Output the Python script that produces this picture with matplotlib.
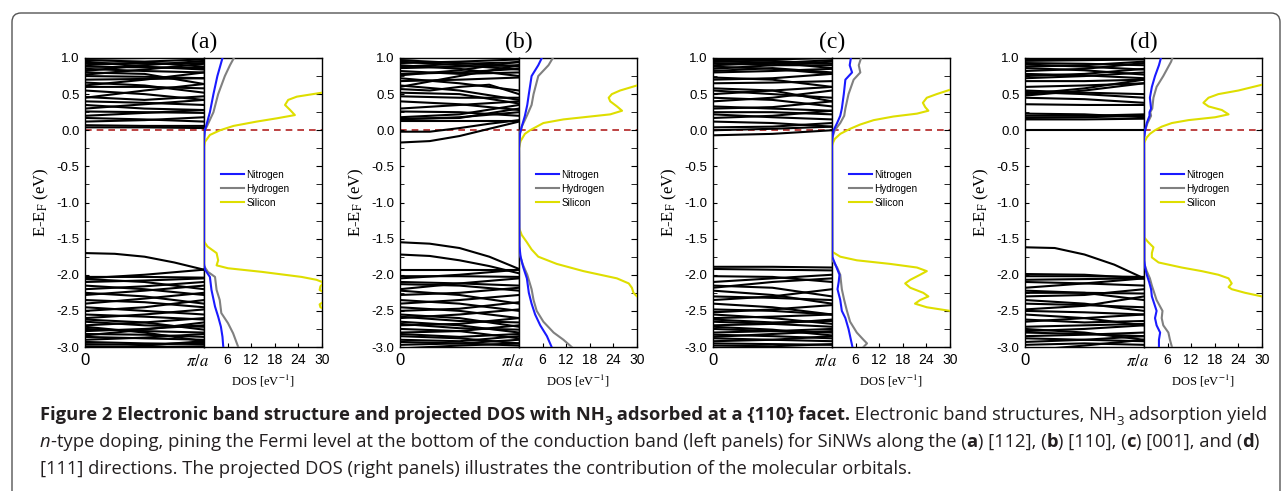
import matplotlib
matplotlib.use('Agg')
import numpy as np
import matplotlib.pyplot as plt
import matplotlib.transforms as mtransforms
from matplotlib.patches import FancyBboxPatch
from matplotlib.ticker import MultipleLocator

plt.rcParams['font.family'] = 'Liberation Sans'
plt.rcParams['mathtext.fontset'] = 'stix'

#### DATA ####
panel_labels = ['(a)', '(b)', '(c)', '(d)']
species = ['Nitrogen', 'Hydrogen', 'Silicon']
species_colors = ['#1a1aff', '#808080', '#dede00']
dos_ticks = [6, 12, 18, 24, 30]

# band energies (eV) sampled evenly from k=0 to k=pi/a
bands_a = [
    [0.04, 0.04, 0.03], [0.07, 0.06, 0.06], [0.12, 0.14, 0.18], [0.17, 0.15, 0.12],
    [0.20, 0.24, 0.28], [0.26, 0.25, 0.24], [0.30, 0.36, 0.42], [0.35, 0.30, 0.28],
    [0.40, 0.38, 0.35], [0.46, 0.42, 0.47], [0.55, 0.50, 0.42], [0.60, 0.60, 0.58],
    [0.66, 0.62, 0.52], [0.70, 0.71, 0.72], [0.75, 0.74, 0.72], [0.80, 0.78, 0.64],
    [0.85, 0.82, 0.80], [0.88, 0.87, 0.86], [0.93, 0.92, 0.93], [0.97, 0.95, 0.98],
    [0.99, 1.00, 1.02], [0.62, 0.70, 0.80], [0.45, 0.55, 0.64], [0.82, 0.90, 0.96],
    [0.90, 0.94, 0.88], [0.77, 0.84, 0.92], [0.95, 0.88, 0.84],
    [-1.70, -1.71, -1.75, -1.83, -1.93],
    [-2.05, -2.00, -1.93], [-2.03, -2.03, -2.04], [-2.06, -2.10, -2.20], [-2.10, -2.08, -2.05],
    [-2.15, -2.20, -2.28], [-2.20, -2.16, -2.10], [-2.25, -2.30, -2.40], [-2.28, -2.22, -2.15],
    [-2.35, -2.38, -2.45], [-2.40, -2.33, -2.25], [-2.45, -2.50, -2.55], [-2.50, -2.45, -2.35],
    [-2.55, -2.58, -2.62], [-2.60, -2.55, -2.48], [-2.65, -2.70, -2.72], [-2.70, -2.66, -2.60],
    [-2.75, -2.78, -2.80], [-2.78, -2.75, -2.70], [-2.82, -2.83, -2.86], [-2.86, -2.88, -2.90],
    [-2.90, -2.87, -2.82], [-2.93, -2.95, -2.96], [-2.96, -2.97, -2.94], [-2.99, -3.00, -2.99],
    [-3.05, -2.98, -2.92], [-2.72, -2.80, -2.92], [-2.84, -2.76, -2.66], [-2.62, -2.66, -2.76],
]
bands_b = [
    [-0.17, -0.15, -0.08, 0.02, 0.12], [-0.02, -0.02, 0.03, 0.09, 0.14], [0.13, 0.13, 0.13],
    [0.15, 0.18, 0.25], [0.16, 0.17, 0.30], [0.18, 0.22, 0.35], [0.26, 0.25, 0.20],
    [0.30, 0.35, 0.40], [0.40, 0.36, 0.28], [0.47, 0.45, 0.45], [0.52, 0.50, 0.37],
    [0.57, 0.55, 0.60, 0.63, 0.50], [0.62, 0.55, 0.42], [0.68, 0.70, 0.73], [0.72, 0.65, 0.55],
    [0.78, 0.80, 0.85], [0.82, 0.78, 0.80], [0.86, 0.88, 0.90], [0.90, 0.85, 0.75],
    [0.93, 0.95, 0.98], [0.97, 0.93, 0.88], [0.99, 1.02, 1.05], [0.60, 0.75, 0.90],
    [0.88, 0.92, 0.94], [0.76, 0.83, 0.95], [0.95, 0.90, 0.84],
    [-1.55, -1.57, -1.63, -1.75, -1.92], [-1.72, -1.74, -1.80, -1.88, -1.98],
    [-1.93, -1.93, -1.93], [-2.02, -2.02, -2.03], [-2.05, -2.00, -1.93], [-2.10, -2.12, -2.15],
    [-2.13, -2.15, -2.22], [-2.20, -2.12, -2.05], [-2.22, -2.28, -2.40], [-2.28, -2.25, -2.18],
    [-2.35, -2.40, -2.50], [-2.40, -2.35, -2.28], [-2.45, -2.50, -2.60], [-2.50, -2.47, -2.38],
    [-2.55, -2.60, -2.72], [-2.60, -2.55, -2.48], [-2.65, -2.70, -2.80], [-2.70, -2.68, -2.60],
    [-2.75, -2.78, -2.88], [-2.80, -2.78, -2.70], [-2.85, -2.88, -2.95], [-2.90, -2.92, -2.85],
    [-2.93, -2.95, -2.98], [-2.97, -2.95, -2.90], [-3.02, -2.98, -2.95],
    [-2.68, -2.74, -2.76], [-2.82, -2.86, -2.82], [-2.58, -2.64, -2.66],
]
bands_c = [
    [-0.07, -0.05, 0.00], [0.00, 0.02, 0.05], [0.04, 0.05, 0.10], [0.12, 0.10, 0.05],
    [0.17, 0.20, 0.27], [0.22, 0.18, 0.15], [0.25, 0.25, 0.22], [0.30, 0.32, 0.40],
    [0.33, 0.30, 0.27], [0.40, 0.45, 0.55], [0.45, 0.42, 0.33], [0.50, 0.55, 0.60],
    [0.55, 0.50, 0.45], [0.58, 0.55, 0.40], [0.65, 0.66, 0.68], [0.70, 0.72, 0.78],
    [0.73, 0.70, 0.60], [0.80, 0.82, 0.85], [0.85, 0.90, 0.95], [0.88, 0.85, 0.78],
    [0.93, 0.90, 0.90], [0.97, 0.98, 1.00], [0.99, 0.96, 0.92],
    [0.90, 0.93, 0.97], [0.82, 0.86, 0.80], [0.95, 0.94, 0.86],
    [-1.89, -1.89, -1.90], [-1.92, -1.93, -1.94], [-2.02, -2.03, -2.10], [-2.10, -2.05, -2.00],
    [-2.15, -2.18, -2.30], [-2.18, -2.10, -2.05], [-2.22, -2.28, -2.40], [-2.30, -2.32, -2.35],
    [-2.35, -2.30, -2.20], [-2.40, -2.45, -2.55], [-2.48, -2.50, -2.55], [-2.52, -2.48, -2.42],
    [-2.55, -2.60, -2.68], [-2.60, -2.58, -2.55], [-2.65, -2.68, -2.72], [-2.70, -2.68, -2.62],
    [-2.75, -2.78, -2.80], [-2.80, -2.78, -2.75], [-2.83, -2.85, -2.88], [-2.88, -2.90, -2.92],
    [-2.92, -2.90, -2.85], [-2.95, -2.96, -2.97], [-2.98, -2.99, -2.96],
    [-2.72, -2.76, -2.84], [-2.86, -2.82, -2.78], [-2.62, -2.66, -2.64],
]
bands_d = [
    [0.00, 0.00, 0.00], [0.15, 0.15, 0.16], [0.17, 0.18, 0.20], [0.20, 0.20, 0.22],
    [0.23, 0.22, 0.18], [0.36, 0.35, 0.35], [0.45, 0.43, 0.38], [0.48, 0.55, 0.65],
    [0.50, 0.58, 0.70], [0.53, 0.50, 0.45], [0.55, 0.52, 0.50], [0.60, 0.62, 0.65],
    [0.68, 0.68, 0.70], [0.72, 0.75, 0.80], [0.75, 0.78, 0.85], [0.78, 0.76, 0.72],
    [0.82, 0.85, 0.93], [0.86, 0.83, 0.77], [0.88, 0.90, 0.95], [0.93, 0.92, 0.90],
    [0.96, 0.97, 0.98], [0.98, 0.99, 1.00], [0.91, 0.88, 0.84],
    [-1.62, -1.63, -1.72, -1.86, -2.05],
    [-1.99, -2.00, -2.05], [-2.02, -2.02, -2.03], [-2.07, -2.06, -2.05], [-2.10, -2.12, -2.15],
    [-2.18, -2.12, -2.05], [-2.22, -2.25, -2.35], [-2.25, -2.25, -2.26], [-2.30, -2.28, -2.20],
    [-2.35, -2.40, -2.50], [-2.40, -2.42, -2.45], [-2.48, -2.43, -2.30], [-2.50, -2.52, -2.55],
    [-2.55, -2.60, -2.70], [-2.65, -2.60, -2.55], [-2.72, -2.70, -2.68], [-2.78, -2.75, -2.70],
    [-2.80, -2.82, -2.85], [-2.85, -2.83, -2.80], [-2.88, -2.90, -2.92], [-2.93, -2.90, -2.85],
    [-2.97, -2.95, -2.97], [-3.05, -2.98, -2.90], [-2.75, -2.80, -2.90], [-2.62, -2.66, -2.64],
]

# projected DOS as (energy eV, DOS eV^-1)
dos_a_nitrogen = [(1.0, 4.7), (0.75, 3.4), (0.5, 2.4), (0.25, 1.5), (0.05, 0.5), (0.0, 0.2),
                  (-0.1, 0.05), (-0.2, 0.0), (-1.85, 0.0), (-1.93, 0.25), (-2.03, 1.5), (-2.21, 1.9),
                  (-2.44, 2.8), (-2.58, 3.6), (-2.72, 4.3), (-2.86, 4.7), (-3.0, 4.9)]
dos_a_hydrogen = [(1.0, 7.6), (0.9, 6.6), (0.75, 5.3), (0.5, 3.6), (0.25, 2.4), (0.05, 0.7),
                  (0.0, 0.2), (-0.1, 0.0), (-1.88, 0.0), (-1.96, 1.0), (-2.03, 2.8), (-2.21, 3.2),
                  (-2.35, 4.0), (-2.53, 4.4), (-2.67, 6.1), (-2.81, 7.4), (-3.0, 8.7)]
dos_a_silicon = [(0.56, 32.0), (0.52, 30.0), (0.465, 23.6), (0.42, 21.4), (0.35, 20.6), (0.28, 21.9),
                 (0.21, 23.1), (0.165, 18.5), (0.12, 13.4), (0.06, 7.5), (0.0, 4.1), (-0.065, 1.5),
                 (-0.16, 0.25), (-0.23, 0.0), (-1.54, 0.0), (-1.61, 0.9), (-1.70, 3.2), (-1.80, 3.6),
                 (-1.87, 3.2), (-1.91, 6.1), (-1.96, 14.7), (-2.03, 24.8), (-2.07, 28.6), (-2.11, 30.5),
                 (-2.16, 29.6), (-2.21, 29.4), (-2.26, 31.0), (-2.35, 31.0), (-2.41, 29.4),
                 (-2.45, 29.6), (-2.50, 31.5)]

dos_b_nitrogen = [(1.0, 5.8), (0.9, 4.9), (0.75, 3.2), (0.5, 2.5), (0.35, 2.1), (0.2, 1.5),
                  (0.05, 0.7), (-0.05, 0.25), (-0.25, 0.0), (-1.6, 0.1), (-1.75, 0.4), (-1.9, 1.1),
                  (-2.05, 2.0), (-2.25, 2.5), (-2.4, 3.2), (-2.55, 4.1), (-2.7, 5.4), (-2.85, 7.1),
                  (-3.0, 8.3)]
dos_b_hydrogen = [(1.0, 8.6), (0.9, 7.5), (0.75, 4.9), (0.5, 3.7), (0.35, 3.2), (0.2, 2.0),
                  (0.05, 0.7), (-0.05, 0.15), (-0.25, 0.0), (-1.7, 0.1), (-1.85, 0.9), (-2.0, 2.1),
                  (-2.2, 3.2), (-2.35, 3.7), (-2.5, 4.5), (-2.65, 6.2), (-2.8, 8.8), (-2.9, 11.3),
                  (-3.0, 13.4)]
dos_b_silicon = [(0.66, 32.0), (0.62, 30.0), (0.55, 25.7), (0.5, 23.6), (0.45, 22.8), (0.4, 23.2),
                 (0.33, 24.9), (0.27, 26.2), (0.22, 23.2), (0.19, 18.1), (0.15, 11.3), (0.1, 6.2),
                 (0.05, 4.5), (0.0, 2.8), (-0.05, 1.5), (-0.15, 0.4), (-0.22, 0.1), (-0.25, 0.0),
                 (-1.35, 0.0), (-1.45, 0.7), (-1.55, 2.0), (-1.65, 3.2), (-1.75, 4.9), (-1.85, 9.6),
                 (-1.95, 16.4), (-2.05, 24.9), (-2.12, 27.9), (-2.18, 28.7), (-2.25, 29.1),
                 (-2.30, 30.0), (-2.36, 31.5)]

dos_c_nitrogen = [(1.0, 4.8), (0.9, 4.5), (0.8, 5.1), (0.7, 3.4), (0.5, 3.0), (0.3, 2.5), (0.2, 2.1),
                  (0.1, 1.3), (0.0, 0.4), (-0.1, 0.1), (-0.2, 0.0), (-1.75, 0.05), (-1.85, 0.8),
                  (-2.0, 1.9), (-2.1, 1.7), (-2.2, 1.4), (-2.35, 2.1), (-2.5, 2.5), (-2.6, 3.4),
                  (-2.75, 4.2), (-2.9, 4.8), (-3.0, 5.2)]
dos_c_hydrogen = [(1.0, 7.4), (0.9, 6.8), (0.8, 7.2), (0.7, 5.5), (0.5, 4.2), (0.3, 3.4), (0.2, 3.1),
                  (0.1, 2.1), (0.0, 0.7), (-0.1, 0.1), (-0.2, 0.0), (-1.8, 0.1), (-1.9, 1.3),
                  (-2.0, 2.1), (-2.2, 2.5), (-2.35, 3.1), (-2.5, 3.8), (-2.65, 4.6), (-2.8, 6.3),
                  (-2.9, 8.0), (-2.95, 8.9), (-3.0, 8.0)]
dos_c_silicon = [(0.60, 32.0), (0.56, 30.0), (0.5, 26.6), (0.45, 24.1), (0.38, 23.1), (0.32, 23.7),
                 (0.27, 24.5), (0.23, 21.6), (0.19, 15.6), (0.14, 10.6), (0.08, 7.2), (0.02, 4.6),
                 (-0.05, 2.1), (-0.12, 0.7), (-0.18, 0.2), (-0.22, 0.0), (-1.68, 0.0), (-1.75, 2.1),
                 (-1.8, 6.3), (-1.85, 14.8), (-1.9, 21.6), (-1.95, 24.1), (-2.0, 22.4), (-2.07, 19.9),
                 (-2.12, 18.6), (-2.18, 19.9), (-2.25, 23.2), (-2.3, 24.5), (-2.35, 22.4),
                 (-2.4, 21.1), (-2.45, 24.1), (-2.5, 30.0), (-2.54, 32.0)]

dos_d_nitrogen = [(1.0, 4.3), (0.9, 3.8), (0.75, 2.8), (0.6, 2.0), (0.45, 1.5), (0.3, 1.8), (0.25, 1.4),
                  (0.2, 1.4), (0.1, 0.7), (0.0, 0.3), (-0.1, 0.0), (-1.8, 0.05), (-1.9, 0.3),
                  (-2.0, 0.7), (-2.1, 1.3), (-2.2, 1.8), (-2.3, 2.0), (-2.4, 2.6), (-2.5, 3.2),
                  (-2.6, 2.8), (-2.7, 3.2), (-2.8, 4.1), (-2.9, 3.8), (-3.0, 3.8)]
dos_d_hydrogen = [(1.0, 7.2), (0.95, 6.9), (0.75, 4.9), (0.6, 3.2), (0.45, 2.4), (0.3, 2.1), (0.25, 1.6),
                  (0.2, 1.8), (0.1, 0.9), (0.0, 0.3), (-0.1, 0.0), (-1.85, 0.1), (-1.95, 0.7),
                  (-2.05, 1.5), (-2.15, 2.0), (-2.25, 2.6), (-2.35, 3.2), (-2.5, 4.7), (-2.6, 4.5),
                  (-2.7, 4.9), (-2.8, 6.2), (-2.9, 6.6), (-3.0, 7.1)]
dos_d_silicon = [(0.67, 32.0), (0.63, 30.0), (0.55, 24.0), (0.5, 18.9), (0.45, 16.4), (0.38, 15.1),
                 (0.33, 16.4), (0.28, 19.8), (0.22, 21.5), (0.18, 18.1), (0.14, 11.3), (0.1, 7.1),
                 (0.05, 4.5), (0.0, 2.8), (-0.05, 1.5), (-0.1, 0.7), (-0.15, 0.25), (-0.18, 0.0),
                 (-1.48, 0.0), (-1.55, 1.1), (-1.62, 2.4), (-1.7, 2.0), (-1.76, 2.0), (-1.83, 3.7),
                 (-1.9, 9.6), (-1.95, 14.7), (-2.0, 18.9), (-2.05, 21.5), (-2.12, 22.3), (-2.17, 21.5),
                 (-2.2, 22.3), (-2.25, 25.7), (-2.3, 30.0), (-2.34, 32.0)]

all_bands = [bands_a, bands_b, bands_c, bands_d]
all_dos = [
    [dos_a_nitrogen, dos_a_hydrogen, dos_a_silicon],
    [dos_b_nitrogen, dos_b_hydrogen, dos_b_silicon],
    [dos_c_nitrogen, dos_c_hydrogen, dos_c_silicon],
    [dos_d_nitrogen, dos_d_hydrogen, dos_d_silicon],
]

caption_lines = [
    [("Figure 2 Electronic band structure and projected DOS with NH", 'bold', 'normal', False),
     ("3", 'bold', 'normal', True),
     (" adsorbed at a {110} facet.", 'bold', 'normal', False),
     (" Electronic band structures, NH", 'normal', 'normal', False),
     ("3", 'normal', 'normal', True),
     (" adsorption yield", 'normal', 'normal', False)],
    [("n", 'normal', 'italic', False),
     ("-type doping, pining the Fermi level at the bottom of the conduction band (left panels) for SiNWs along the (", 'normal', 'normal', False),
     ("a", 'bold', 'normal', False), (") [112], (", 'normal', 'normal', False),
     ("b", 'bold', 'normal', False), (") [110], (", 'normal', 'normal', False),
     ("c", 'bold', 'normal', False), (") [001], and (", 'normal', 'normal', False),
     ("d", 'bold', 'normal', False), (")", 'normal', 'normal', False)],
    [("[111] directions. The projected DOS (right panels) illustrates the contribution of the molecular orbitals.", 'normal', 'normal', False)],
]

#### LAYOUT (pixels) ####
W, H = 1286, 491
panel_left = [85, 400, 713, 1025]
band_w, dos_w = 119, 118
ax_top, ax_h = 58, 289
cap_size = 13.2
cap_x = 40
cap_base = [420, 447, 474]

fig = plt.figure(figsize=(W / 100, H / 100), dpi=100)


def px_axes(left, top, width, height):
    return fig.add_axes([left / W, 1 - (top + height) / H, width / W, height / H])


# rounded outer frame
frame = FancyBboxPatch((12, -20), 1268, 491 - 13 + 20, boxstyle='round,pad=0,rounding_size=9',
                       transform=mtransforms.IdentityTransform(), fill=False,
                       edgecolor='#555555', linewidth=1.0)
fig.patches.append(frame)

for i, left in enumerate(panel_left):
    axb = px_axes(left, ax_top, band_w, ax_h)
    axd = px_axes(left + band_w, ax_top, dos_w, ax_h)

    # band structure
    axb.axhline(0, color='#b22222', linestyle=(0, (4, 3)), linewidth=1.2, zorder=1)
    for band in all_bands[i]:
        k = np.linspace(0, 1, len(band))
        axb.plot(k, band, color='black', linewidth=1.5, zorder=2)
    axb.set_xlim(0, 1)
    axb.set_ylim(-3, 1)
    axb.yaxis.set_major_locator(MultipleLocator(0.5))
    axb.yaxis.set_minor_locator(MultipleLocator(0.25))
    axb.set_yticklabels([f'{v:.1f}' for v in axb.get_yticks()])
    axb.tick_params(axis='y', which='both', direction='in', length=3, labelsize=9.5, pad=4, right=False)
    axb.set_xticks([0, 1])
    axb.set_xticklabels(['0', r'$\pi/a$'], fontsize=12)
    axb.tick_params(axis='x', length=0, pad=4)
    lbl = axb.get_xticklabels()[1]
    lbl.set_transform(lbl.get_transform() + mtransforms.ScaledTranslation(-5 / 72, 0, fig.dpi_scale_trans))
    for sp in axb.spines.values():
        sp.set_linewidth(1.0)

    # projected DOS
    axd.axhline(0, color='#b22222', linestyle=(0, (4, 3)), linewidth=1.2, zorder=1)
    for name, color, pairs in reversed(list(zip(species, species_colors, all_dos[i]))):
        e, d = np.array(pairs).T
        axd.plot(d, e, color=color, linewidth=1.5, label=name, zorder=3)
    handles, labels = axd.get_legend_handles_labels()
    axd.legend(handles[::-1], labels[::-1], loc='center left', bbox_to_anchor=(0.14, 0.547),
               frameon=False, fontsize=7.2, handlelength=2.3, handletextpad=0.3,
               labelspacing=0.4, borderpad=0, borderaxespad=0)
    axd.set_xlim(0, 30)
    axd.set_ylim(-3, 1)
    axd.set_xticks(dos_ticks)
    axd.tick_params(axis='x', direction='in', length=3, labelsize=10, pad=4)
    axd.yaxis.set_major_locator(MultipleLocator(0.5))
    axd.yaxis.set_minor_locator(MultipleLocator(0.25))
    axd.tick_params(axis='y', which='both', direction='in', length=4, left=False, right=True,
                    labelleft=False)
    for sp in axd.spines.values():
        sp.set_linewidth(1.0)

    # panel texts
    fig.text((left + band_w) / W, 1 - 42 / H, panel_labels[i], ha='center', va='center',
             fontsize=17, family='Liberation Serif')
    fig.text((left - 44) / W, 1 - (ax_top + ax_h / 2) / H, r'E-E$_\mathrm{F}$ (eV)', rotation=90,
             ha='center', va='center', fontsize=12, family='Liberation Serif')
    fig.text((left + band_w + dos_w / 2) / W, 1 - 381 / H, r'DOS [eV$^{-1}$]', ha='center',
             va='center', fontsize=9, family='Liberation Serif')

# caption with mixed styles
renderer = fig.canvas.get_renderer()
for line, base in zip(caption_lines, cap_base):
    x = cap_x
    for txt, weight, style, sub in line:
        size = cap_size * (0.72 if sub else 1.0)
        y = base + (cap_size * 0.28 * 100 / 72 if sub else 0)
        t = fig.text(x / W, 1 - y / H, txt, fontsize=size, fontweight=weight, fontstyle=style,
                     family='Open Sans', ha='left', va='baseline', color='#231f20')
        x += t.get_window_extent(renderer).width

fig.savefig('out.png', dpi=100)
